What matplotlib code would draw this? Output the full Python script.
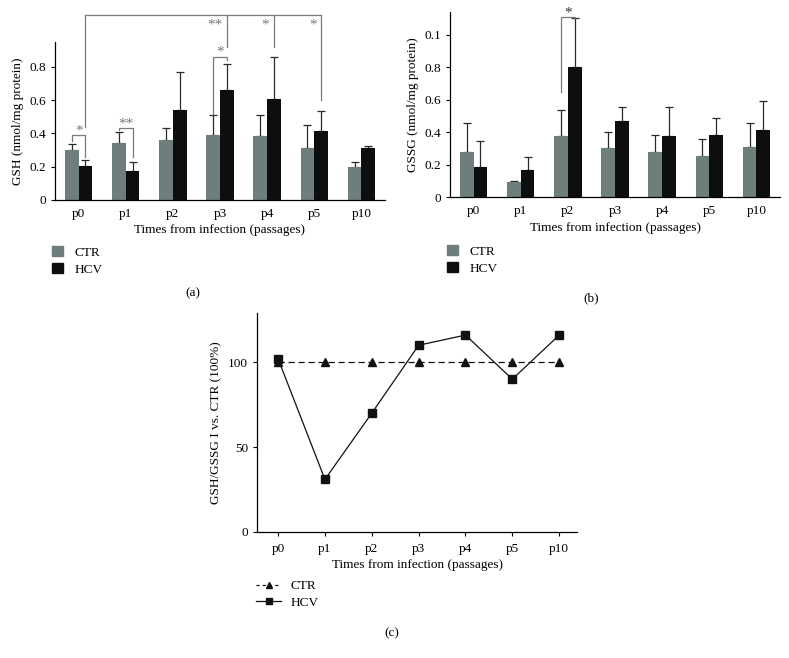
import numpy as np
import matplotlib
matplotlib.use("Agg")
import matplotlib.pyplot as plt
from matplotlib.lines import Line2D
from matplotlib.patches import Patch

plt.rcParams["font.family"] = ["Liberation Serif", "DejaVu Serif"]
plt.rcParams["font.size"] = 9.5
plt.rcParams["axes.labelsize"] = 9.5
plt.rcParams["legend.fontsize"] = 9.5

passages = ["p0", "p1", "p2", "p3", "p4", "p5", "p10"]

# (a) GSH
gsh_ctr = [0.30, 0.345, 0.36, 0.39, 0.385, 0.31, 0.20]
gsh_ctr_top = [0.335, 0.41, 0.43, 0.51, 0.51, 0.45, 0.23]
gsh_hcv = [0.205, 0.175, 0.54, 0.66, 0.61, 0.415, 0.31]
gsh_hcv_top = [0.24, 0.23, 0.77, 0.815, 0.86, 0.535, 0.325]

# (b) GSSG
gssg_ctr = [0.28, 0.095, 0.375, 0.30, 0.275, 0.25, 0.31]
gssg_ctr_top = [0.455, 0.10, 0.535, 0.40, 0.38, 0.36, 0.455]
gssg_hcv = [0.185, 0.165, 0.80, 0.47, 0.375, 0.38, 0.41]
gssg_hcv_top = [0.345, 0.245, 1.10, 0.555, 0.555, 0.485, 0.59]

# (c) GSH/GSSG ratio vs CTR
ratio_ctr = [100, 100, 100, 100, 100, 100, 100]
ratio_hcv = [102, 31, 70, 110, 116, 90, 116]

CTR_C = "#6e7e7c"
HCV_C = "#0c0f0e"
SIG_C = "#7a7a7a"
W = 0.29
OFF = 0.145
STAR = 11
x = np.arange(len(passages))

fig = plt.figure(figsize=(7.89, 6.58), dpi=100)
ax_a = fig.add_axes([55 / 789, 1 - 200 / 658, 330 / 789, 158 / 658])
ax_b = fig.add_axes([450 / 789, 1 - 197 / 658, 330 / 789, 185 / 658])
ax_c = fig.add_axes([257 / 789, 1 - 532 / 658, 320 / 789, 219 / 658])


def bars(ax, ctr, ctr_top, hcv, hcv_top):
    ctr = np.array(ctr)
    hcv = np.array(hcv)
    ax.bar(x - OFF, ctr, W, color=CTR_C, zorder=2)
    ax.bar(x + OFF, hcv, W, color=HCV_C, zorder=2)
    ax.errorbar(x - OFF, ctr, yerr=[np.zeros_like(ctr), np.array(ctr_top) - ctr],
                fmt="none", ecolor="#2a2a2a", elinewidth=0.9, capsize=3, capthick=0.9, zorder=1)
    ax.errorbar(x + OFF, hcv, yerr=[np.zeros_like(hcv), np.array(hcv_top) - hcv],
                fmt="none", ecolor="#2a2a2a", elinewidth=0.9, capsize=3, capthick=0.9, zorder=1)
    ax.set_xlim(-0.5, 6.5)
    ax.set_xticks(x)
    ax.set_xticklabels(passages)
    ax.tick_params(axis="x", length=0, pad=6)
    ax.tick_params(axis="y", length=3, width=0.8, direction="out")
    for s in ["top", "right"]:
        ax.spines[s].set_visible(False)
    for s in ["left", "bottom"]:
        ax.spines[s].set_linewidth(0.9)
    ax.set_xlabel("Times from infection (passages)", labelpad=3)


def bracket(ax, x0, x1, y, d0, d1, star, sy):
    ax.plot([x0, x0, x1, x1], [d0, y, y, d1], color=SIG_C, lw=0.9, clip_on=False)
    ax.text((x0 + x1) / 2, sy, star, ha="center", va="bottom", color=SIG_C, fontsize=STAR)


# (a)
bars(ax_a, gsh_ctr, gsh_ctr_top, gsh_hcv, gsh_hcv_top)
ax_a.set_ylim(0, 0.95)
ax_a.set_yticks([0, 0.2, 0.4, 0.6, 0.8])
ax_a.set_yticklabels(["0", "0.2", "0.4", "0.6", "0.8"])
ax_a.set_ylabel("GSH (nmol/mg protein)", labelpad=4)
bracket(ax_a, 0 - OFF, 0 + OFF, 0.39, 0.355, 0.26, "*", 0.375)
bracket(ax_a, 1 - OFF, 1 + OFF, 0.43, 0.42, 0.26, "**", 0.415)
bracket(ax_a, 3 - OFF, 3 + OFF, 0.86, 0.52, 0.84, "*", 0.85)
# long bracket from p0 HCV to p3, p4, p5 HCV
top = 1.11
ax_a.plot([0 + OFF, 0 + OFF], [0.44, top], color=SIG_C, lw=0.9, clip_on=False)
ax_a.plot([0 + OFF, 5 + OFF], [top, top], color=SIG_C, lw=0.9, clip_on=False)
for xi, low, star in [(3, 0.92, "**"), (4, 0.92, "*"), (5, 0.60, "*")]:
    ax_a.plot([xi + OFF, xi + OFF], [low, top], color=SIG_C, lw=0.9, clip_on=False)
    ax_a.text(xi + OFF - 0.1, 1.09, star, ha="right", va="top", color=SIG_C,
              fontsize=STAR, clip_on=False)

# (b)
bars(ax_b, gssg_ctr, gssg_ctr_top, gssg_hcv, gssg_hcv_top)
ax_b.set_ylim(0, 1.14)
ax_b.set_yticks([0, 0.2, 0.4, 0.6, 0.8, 1.0])
ax_b.set_yticklabels(["0", "0.2", "0.4", "0.6", "0.8", "0.1"])
ax_b.set_ylabel("GSSG (nmol/mg protein)", labelpad=4)
ax_b.plot([2 - OFF, 2 - OFF, 2 + OFF, 2 + OFF], [0.65, 1.11, 1.11, 1.10],
          color=SIG_C, lw=0.9, clip_on=False)
ax_b.text(2, 1.095, "*", ha="center", va="bottom", color="#333333", fontsize=STAR)

# (c)
ax_c.plot(x, ratio_ctr, ls=(0, (5, 3)), color="#111111", lw=0.9,
          marker="^", ms=5.5, label="CTR")
ax_c.plot(x, ratio_hcv, ls="-", color="#111111", lw=0.9,
          marker="s", ms=5.5, label="HCV")
ax_c.set_xlim(-0.45, 6.38)
ax_c.set_ylim(0, 129)
ax_c.set_xticks(x)
ax_c.set_xticklabels(passages)
ax_c.set_yticks([0, 50, 100])
ax_c.tick_params(axis="x", length=3, width=0.8, direction="out", pad=5)
ax_c.tick_params(axis="y", length=3, width=0.8, direction="out")
for s in ["top", "right"]:
    ax_c.spines[s].set_visible(False)
for s in ["left", "bottom"]:
    ax_c.spines[s].set_linewidth(0.9)
ax_c.set_xlabel("Times from infection (passages)", labelpad=3)
ax_c.set_ylabel("GSH/GSSG I vs. CTR (100%)", labelpad=4)

# legends
leg_kw = dict(loc="upper left", frameon=False, labelspacing=0.35,
              borderpad=0, borderaxespad=0)
bar_handles = [Patch(color=CTR_C), Patch(color=HCV_C)]
fig.legend(bar_handles, ["CTR", "HCV"], bbox_to_anchor=(52 / 789, 1 - 246 / 658),
           handlelength=0.8, handleheight=0.8, handletextpad=0.9, **leg_kw)
fig.legend(bar_handles, ["CTR", "HCV"], bbox_to_anchor=(447 / 789, 1 - 245 / 658),
           handlelength=0.8, handleheight=0.8, handletextpad=0.9, **leg_kw)
line_handles = [
    Line2D([], [], ls=(0, (2.5, 2.5)), color="#111111", lw=0.9, marker="^", ms=5),
    Line2D([], [], ls="-", color="#111111", lw=0.9, marker="s", ms=5),
]
fig.legend(line_handles, ["CTR", "HCV"], bbox_to_anchor=(256 / 789, 1 - 580 / 658),
           handlelength=1.9, handletextpad=0.7, **leg_kw)

fig.text(193 / 789, 1 - 293 / 658, "(a)", ha="center", va="center")
fig.text(591 / 789, 1 - 298 / 658, "(b)", ha="center", va="center")
fig.text(392 / 789, 1 - 633 / 658, "(c)", ha="center", va="center")

fig.savefig("out.png", dpi=100)
